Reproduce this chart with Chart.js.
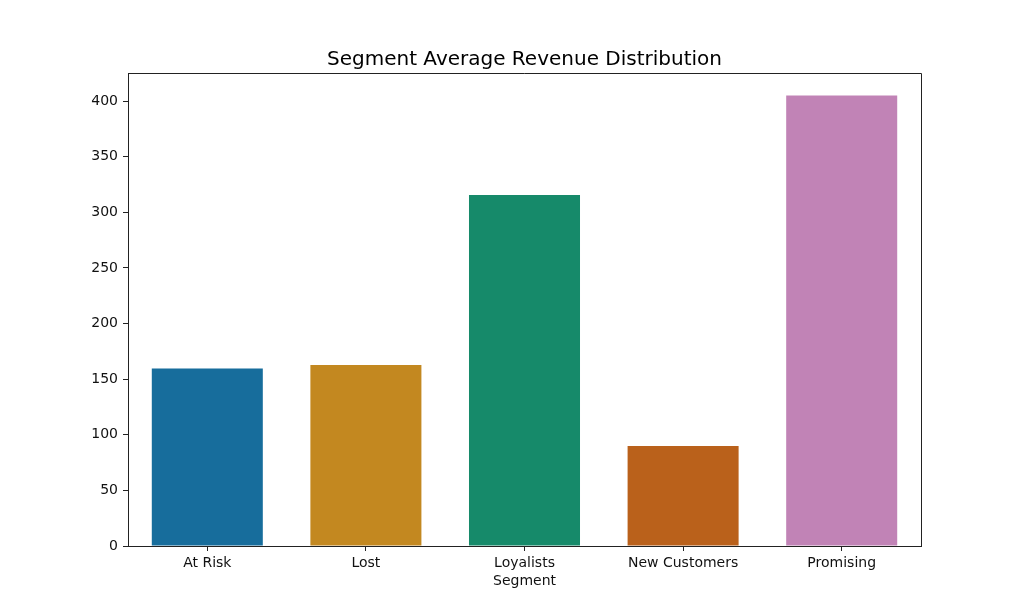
<!DOCTYPE html>
<html>
<head>
<meta charset="utf-8">
<script src="https://cdn.jsdelivr.net/npm/chart.js@4"></script>
<style>
  html, body { margin: 0; padding: 0; background: #fff; }
  #chart { display: block; }
</style>
</head>
<body>
<canvas id="chart" width="1024" height="614"></canvas>
<script>
var ctx = document.getElementById('chart').getContext('2d');

var segments = ["At Risk", "Lost", "Loyalists", "New Customers", "Promising"];
var avgRevenue = [159.5, 162.8, 315.5, 89.8, 405.0];
var yTicks = [0, 50, 100, 150, 200, 250, 300, 350, 400];
var barColors = ["#176d9c", "#c38820", "#168a6a", "#ba611b", "#c183b6"];

var font = "'DejaVu Sans', sans-serif";
var ink = "#111";

// top/right spines and the title, matplotlib style
var frame = {
  id: 'frame',
  afterDraw: function(chart) {
    var a = chart.chartArea;
    var c = chart.ctx;
    c.save();
    c.strokeStyle = "#222";
    c.lineWidth = 1;
    c.beginPath();
    c.moveTo(a.left, a.top + 0.5);
    c.lineTo(a.right + 0.5, a.top + 0.5);
    c.lineTo(a.right + 0.5, a.bottom);
    c.stroke();
    c.fillStyle = "#000";
    c.font = "20px " + font;
    c.textAlign = "center";
    c.textBaseline = "middle";
    c.fillText("Segment Average Revenue Distribution", (a.left + a.right) / 2, 59.5);
    c.restore();
  }
};

new Chart(ctx, {
  type: 'bar',
  data: {
    labels: segments,
    datasets: [{
      data: avgRevenue,
      backgroundColor: barColors,
      barPercentage: 0.7,
      categoryPercentage: 1.0
    }]
  },
  options: {
    responsive: false,
    animation: false,
    devicePixelRatio: 1,
    layout: { padding: { top: 73, right: 103, bottom: 0, left: 0 } },
    plugins: {
      legend: { display: false },
      tooltip: { enabled: false }
    },
    scales: {
      x: {
        grid: { drawOnChartArea: false, offset: false, tickLength: 5, color: "#222" },
        border: { color: "#222", width: 1 },
        ticks: { color: ink, padding: 4, font: { family: font, size: 14 } },
        title: {
          display: true, text: "Segment", color: ink,
          font: { family: font, size: 14 }, padding: { top: 0, bottom: 24 }
        },
        afterFit: function(axis) { axis.height = 68; }
      },
      y: {
        min: 0,
        max: 425.25,
        grid: { drawOnChartArea: false, tickLength: 5, color: "#222" },
        border: { color: "#222", width: 1 },
        ticks: { color: ink, padding: 5, stepSize: 50, font: { family: font, size: 14 } },
        afterBuildTicks: function(axis) {
          axis.ticks = yTicks.map(function(v) { return { value: v }; });
        },
        afterFit: function(axis) { axis.width = 128; }
      }
    }
  },
  plugins: [frame]
});
</script>
</body>
</html>
